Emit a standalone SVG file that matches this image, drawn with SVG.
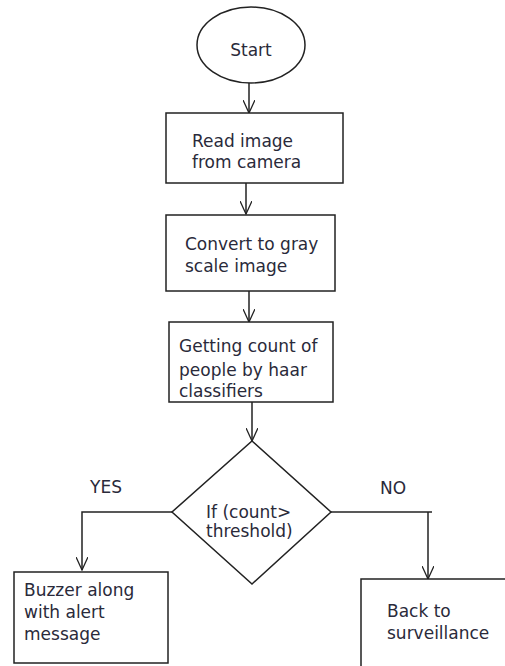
<svg xmlns="http://www.w3.org/2000/svg" width="505" height="666" viewBox="0 0 505 666">
<defs>
<style>
.s{fill:#fff;stroke:#222;stroke-width:1.5}
.t{font-family:"DejaVu Sans",sans-serif;font-size:17px;fill:#2a2a3a}
.c{fill:none;stroke:#222;stroke-width:1.5}
</style>
<marker id="a" viewBox="0 0 14 12" markerWidth="14" markerHeight="12" refX="13" refY="6" orient="auto" markerUnits="userSpaceOnUse">
<path d="M0,0 L13,6 L0,12" fill="none" stroke="#222" stroke-width="1.3"/>
</marker>
</defs>
<rect width="505" height="666" fill="#fff"/>
<g id="connectors">
<path class="c" d="M249,83 V113" marker-end="url(#a)"/>
<path class="c" d="M246,183 V214" marker-end="url(#a)"/>
<path class="c" d="M249,291 V322" marker-end="url(#a)"/>
<path class="c" d="M252,402 V441" marker-end="url(#a)"/>
<path class="c" d="M172,512 H82 V570" marker-end="url(#a)"/>
<path class="c" d="M331,512 H432"/>
<path class="c" d="M428,512 V579" marker-end="url(#a)"/>
</g>
<g id="start">
<ellipse class="s" cx="251" cy="45" rx="54" ry="38"/>
<text class="t" x="251" y="56" text-anchor="middle">Start</text>
</g>
<g id="read">
<rect class="s" x="166" y="113" width="177" height="70"/>
<text class="t" x="192" y="147">Read image</text>
<text class="t" x="192" y="168">from camera</text>
</g>
<g id="convert">
<rect class="s" x="166" y="215" width="169" height="76"/>
<text class="t" x="185" y="250">Convert to gray</text>
<text class="t" x="185" y="272">scale image</text>
</g>
<g id="count">
<rect class="s" x="169" y="322" width="164" height="80"/>
<text class="t" x="179" y="352">Getting count of</text>
<text class="t" x="179" y="376">people by haar</text>
<text class="t" x="179" y="397">classifiers</text>
</g>
<g id="decision">
<polygon class="s" points="252,441 331,512 252,584 172,512"/>
<text class="t" x="206" y="518">If (count&gt;</text>
<text class="t" x="206" y="537">threshold)</text>
</g>
<text class="t" x="90" y="493">YES</text>
<text class="t" x="380" y="494">NO</text>
<g id="buzzer">
<rect class="s" x="14" y="572" width="154" height="91"/>
<text class="t" x="24" y="596">Buzzer along</text>
<text class="t" x="24" y="618">with alert</text>
<text class="t" x="24" y="640">message</text>
</g>
<g id="back">
<rect class="s" x="361" y="579" width="160" height="100"/>
<text class="t" x="387" y="617">Back to</text>
<text class="t" x="387" y="639">surveillance</text>
</g>
</svg>
